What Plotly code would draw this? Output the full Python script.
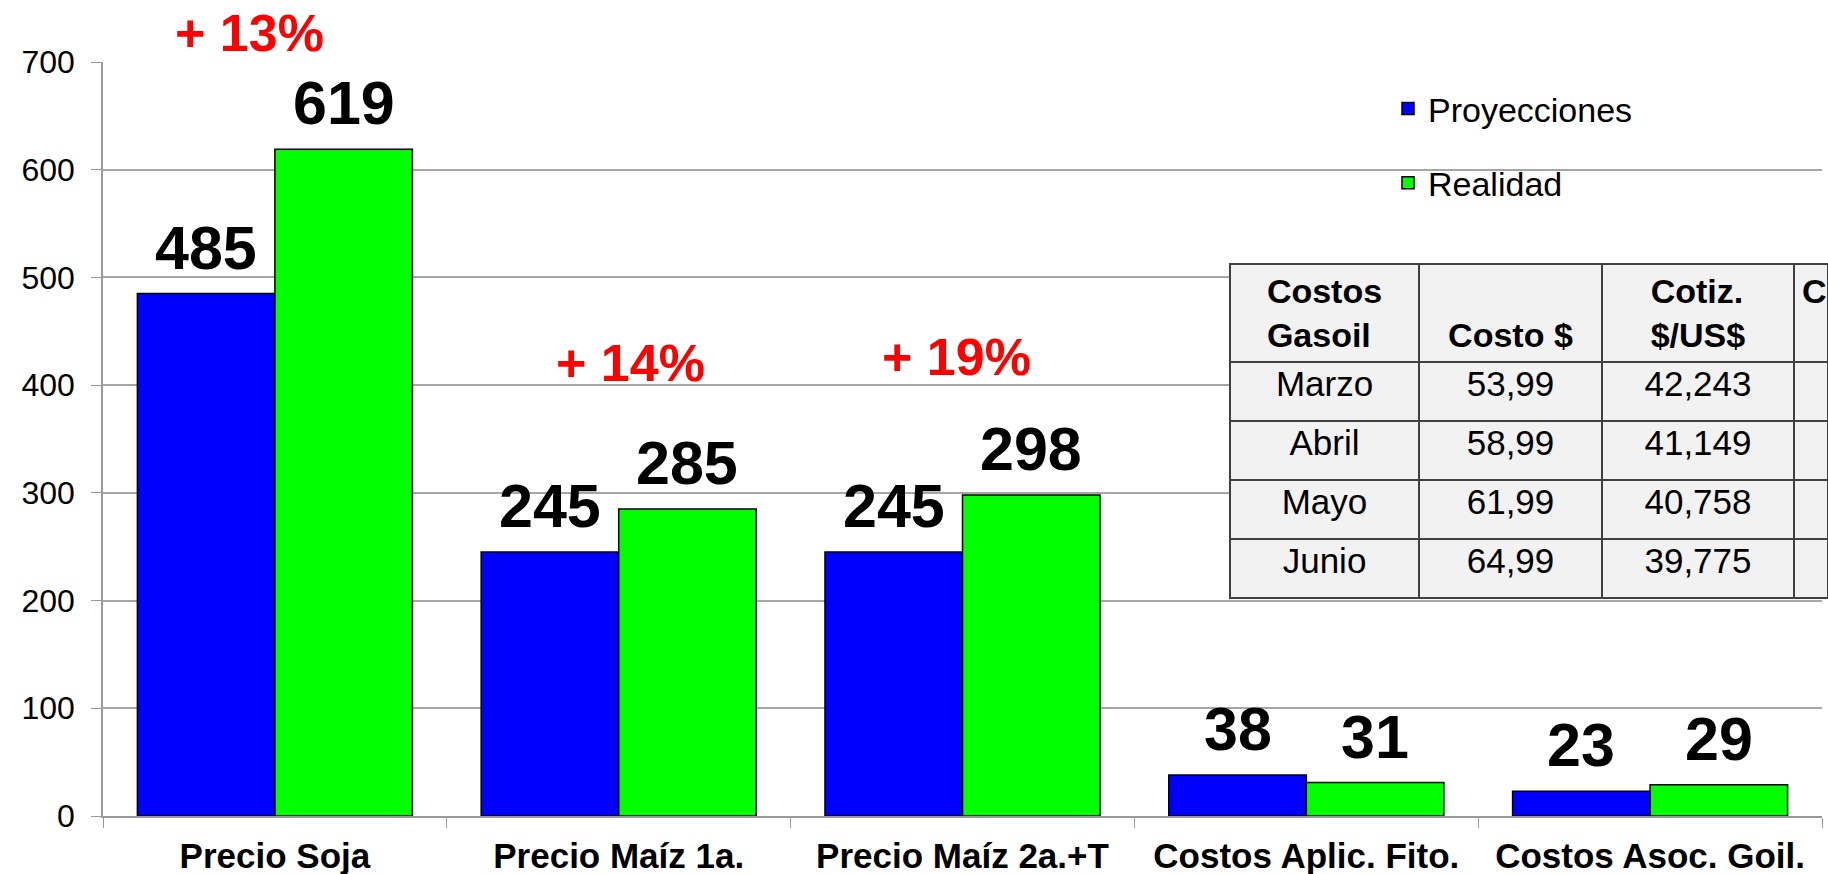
import plotly.graph_objects as go

# ---- data ----
categories = ["Precio Soja", "Precio Maíz 1a.", "Precio Maíz 2a.+T",
              "Costos Aplic. Fito.", "Costos Asoc. Goil."]
proyecciones = [485, 245, 245, 38, 23]
realidad = [619, 285, 298, 31, 29]

pct_labels = ["+ 13%", "+ 14%", "+ 19%"]
pct_categories = ["Precio Soja", "Precio Maíz 1a.", "Precio Maíz 2a.+T"]

table_header = ["Costos<br>Gasoil", "\u00a0<br>Costo $", "Cotiz.<br>$/US$", "C"]
meses = ["Marzo", "Abril", "Mayo", "Junio"]
costo_pesos = ["53,99", "58,99", "61,99", "64,99"]
cotizacion = ["42,243", "41,149", "40,758", "39,775"]
col4 = ["", "", "", ""]

y_ticks = [0, 100, 200, 300, 400, 500, 600, 700]

# ---- styling ----
FONT = "Liberation Sans, Arial, sans-serif"
W, H = 1828, 874
ML, MR, MT, MB = 103, 0, 62, 58
plot_w = W - ML - MR
plot_h = H - MT - MB
x_end = (1822 - ML) / plot_w
Y_MAX = 700

fig = go.Figure()
fig.add_trace(go.Bar(
    name="Proyecciones", x=categories, y=proyecciones,
    marker=dict(color="#0000FF", line=dict(color="#000000", width=1.5)),
    legendgroup="a",
))
fig.add_trace(go.Bar(
    name="Realidad", x=categories, y=realidad,
    marker=dict(color="#00FF00", line=dict(color="#000000", width=1.5)),
    legendgroup="b",
))

# value labels above each bar (grouped bars sit at category -0.2 / +0.2)
for series, dx in ((proyecciones, -0.2), (realidad, 0.2)):
    for i, v in enumerate(series):
        fig.add_annotation(
            x=i + dx, y=v, xref="x", yref="y", text=str(v), showarrow=False,
            xanchor="center", yanchor="bottom", yshift=10,
            font=dict(family=FONT, size=61, color="#000000", weight="bold"),
        )

# percentage annotations (offsets in category units, heights in data units)
pct_dx = [-0.074, 0.035, -0.017]
pct_y = [727, 421, 426]
for lab, cat, dx, yy in zip(pct_labels, pct_categories, pct_dx, pct_y):
    fig.add_annotation(
        x=categories.index(cat) + dx, y=yy / Y_MAX, xref="x", yref="paper",
        text=lab, showarrow=False, xanchor="center", yanchor="middle",
        font=dict(family=FONT, size=52, color="#FF0000", weight="bold"),
    )

# table
tx0 = (1230 - ML) / plot_w
ty0 = (H - MB - 620) / plot_h
ty1 = (H - MB - 264) / plot_h
fig.add_trace(go.Table(
    domain=dict(x=[tx0, 1.0], y=[ty0, ty1]),
    columnwidth=[189, 183, 192, 34],
    header=dict(
        values=["<b>" + h + "</b>" for h in table_header],
        fill_color="#F2F2F2",
        line=dict(color="#404040", width=1.5),
        align=["center", "center", "center", "left"],
        font=dict(family=FONT, size=34, color="#000000"),
        height=85,
    ),
    cells=dict(
        values=[meses, costo_pesos, cotizacion, col4],
        fill_color="#F2F2F2",
        line=dict(color="#404040", width=1.5),
        align="center",
        font=dict(family=FONT, size=35, color="#000000"),
        height=59,
    ),
))

fig.update_layout(
    width=W, height=H,
    margin=dict(l=ML, r=MR, t=MT, b=MB, pad=0),
    paper_bgcolor="#FFFFFF", plot_bgcolor="#FFFFFF",
    barmode="group", bargap=0.2, bargroupgap=0,
    font=dict(family=FONT, color="#000000"),
    showlegend=True,
    legend=dict(
        x=(1388 - ML) / plot_w, y=(H - MB - 80) / plot_h,
        xanchor="left", yanchor="top",
        bgcolor="rgba(0,0,0,0)",
        font=dict(family=FONT, size=34, color="#000000"),
        tracegroupgap=27,
        traceorder="grouped",
    ),
    xaxis=dict(
        domain=[0, x_end],
        showline=True, linecolor="#999999", linewidth=1.5,
        ticks="outside", tickson="boundaries", ticklen=10, tickcolor="#999999",
        tickfont=dict(family=FONT, size=35, color="#000000", weight="bold"),
        ticklabelstandoff=8,
        showgrid=False,
    ),
    yaxis=dict(
        range=[0, Y_MAX], tickvals=y_ticks,
        showline=True, linecolor="#999999", linewidth=1.5,
        ticks="outside", ticklen=10, tickcolor="#999999",
        tickfont=dict(family=FONT, size=32, color="#000000"),
        ticklabelstandoff=10,
        showgrid=True, gridcolor="#A6A6A6", gridwidth=1.5,
        zeroline=False,
    ),
)

fig.write_html(
    "out.html",
    config={"displayModeBar": False},
    post_script="document.body.style.margin='0';document.body.style.overflow='hidden';",
)
